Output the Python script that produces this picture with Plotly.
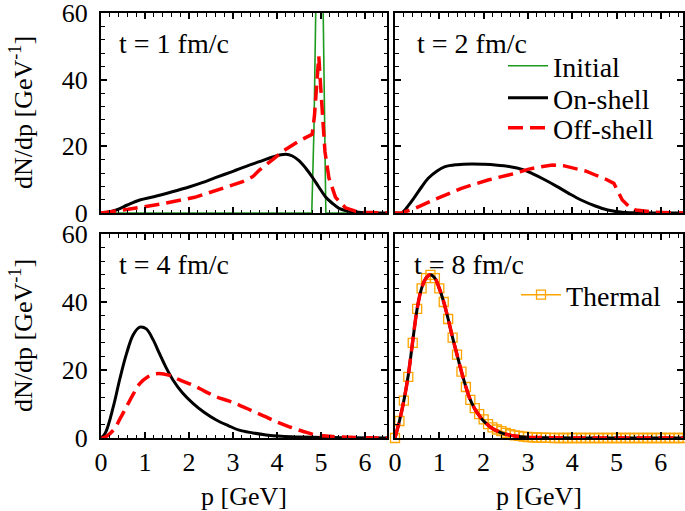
import plotly.graph_objects as go
from plotly.subplots import make_subplots

# ---- data ----
# t = 1 fm/c
p_init = [0.0, 4.79, 4.84, 4.88, 4.92, 4.97, 5.02, 5.05, 5.08, 5.11, 6.5]
n_init = [0.0, 0.0, 25.0, 60.0, 110.0, 130.0, 100.0, 60.0, 25.0, 0.0, 0.0]

p_on_1 = [0.0, 0.1, 0.35, 0.6, 0.88, 1.2, 1.6, 2.0, 2.3, 2.6, 3.0, 3.3, 3.6, 3.9, 4.2, 4.35, 4.5, 4.65, 4.8, 4.95, 5.1, 5.25, 5.41, 5.6, 5.8, 6.0, 6.5]
n_on_1 = [0.0, 0.1, 0.9, 2.4, 3.9, 4.9, 6.3, 7.8, 9.1, 10.6, 12.5, 14.0, 15.4, 16.8, 17.6, 17.1, 15.7, 13.5, 10.8, 7.8, 4.9, 3.0, 1.4, 0.6, 0.3, 0.1, 0.0]

p_off_1 = [0.0, 0.2, 0.62, 1.37, 2.13, 2.88, 3.22, 3.45, 3.6, 3.9, 4.12, 4.5, 4.8, 4.85, 4.9, 4.95, 4.99, 5.03, 5.09, 5.18, 5.33, 5.56, 5.8, 6.0, 6.5]
n_off_1 = [0.0, 0.3, 1.1, 2.7, 4.7, 7.9, 9.4, 10.9, 12.9, 16.0, 18.4, 21.6, 23.6, 29.0, 40.0, 47.0, 38.4, 30.4, 18.4, 10.5, 4.7, 1.5, 0.5, 0.2, 0.0]

# t = 2 fm/c
p_on_2 = [0.0, 0.15, 0.3, 0.45, 0.6, 0.75, 0.95, 1.13, 1.4, 1.73, 2.0, 2.26, 2.6, 2.87, 3.1, 3.39, 3.65, 3.92, 4.2, 4.52, 4.8, 5.13, 5.5, 6.5]
n_on_2 = [0.0, 0.0, 2.2, 4.9, 7.8, 10.4, 12.6, 13.9, 14.5, 14.7, 14.6, 14.4, 13.9, 13.1, 11.8, 9.9, 8.0, 5.9, 3.9, 2.1, 0.9, 0.2, 0.05, 0.0]

p_off_2 = [0.0, 0.15, 0.45, 0.9, 1.5, 2.1, 2.71, 3.0, 3.3, 3.55, 3.8, 4.07, 4.3, 4.52, 4.75, 4.94, 5.03, 5.13, 5.28, 5.43, 5.88, 6.5]
n_off_2 = [0.0, 0.0, 1.4, 4.1, 7.4, 9.9, 11.9, 13.1, 13.9, 14.4, 14.2, 13.4, 12.6, 11.4, 10.2, 8.9, 6.4, 3.9, 2.0, 0.9, 0.2, 0.0]

# t = 4 fm/c
p_on_4 = [0.0, 0.1, 0.28, 0.43, 0.58, 0.73, 0.88, 1.03, 1.18, 1.33, 1.48, 1.64, 1.85, 2.09, 2.35, 2.62, 2.9, 3.14, 3.45, 3.75, 4.1, 4.5, 5.0, 5.5, 6.5]
n_on_4 = [0.0, 1.5, 9.2, 17.5, 24.8, 30.3, 32.6, 32.1, 29.0, 24.8, 20.7, 17.0, 13.3, 10.2, 7.5, 5.3, 3.6, 2.3, 1.5, 0.9, 0.5, 0.3, 0.15, 0.1, 0.0]

p_off_4 = [0.0, 0.05, 0.28, 0.43, 0.58, 0.73, 0.88, 1.05, 1.26, 1.56, 1.8, 2.09, 2.35, 2.62, 2.9, 3.14, 3.45, 3.75, 4.0, 4.28, 4.6, 4.88, 5.2, 5.63, 6.0, 6.5]
n_off_4 = [0.0, 0.0, 2.3, 5.6, 9.2, 12.8, 16.0, 17.9, 18.9, 18.4, 17.0, 15.5, 13.8, 12.1, 10.9, 9.7, 7.9, 6.2, 4.7, 3.3, 1.9, 0.9, 0.5, 0.2, 0.1, 0.0]

# t = 8 fm/c
p_on_8 = [0.0, 0.1, 0.2, 0.3, 0.4, 0.5, 0.6, 0.7, 0.8, 0.9, 1.0, 1.1, 1.2, 1.3, 1.4, 1.5, 1.6, 1.7, 1.8, 1.9, 2.0, 2.1, 2.2, 2.3, 2.4, 2.5, 2.7, 3.0, 3.5, 4.0, 6.5]
n_on_8 = [0.0, 5.0, 11.0, 18.5, 28.5, 38.0, 44.0, 47.0, 48.0, 47.0, 44.0, 40.0, 35.0, 29.5, 24.5, 19.5, 15.0, 11.2, 8.6, 6.6, 5.0, 3.8, 2.8, 2.1, 1.5, 1.1, 0.6, 0.25, 0.08, 0.0, 0.0]
n_off_8 = [0.0, 5.0, 11.0, 18.5, 28.5, 38.0, 44.0, 47.0, 48.0, 47.0, 44.0, 40.0, 35.0, 29.5, 24.5, 19.5, 15.0, 11.2, 8.6, 6.6, 5.0, 3.8, 2.8, 2.1, 1.5, 1.1, 0.6, 0.25, 0.08, 0.0, 0.0]

p_th = [round(0.1 * i, 1) for i in range(66)]
n_th = [0.0, 5.0, 11.0, 18.0, 28.0, 38.0, 44.0, 47.0, 48.0, 47.0,
        44.0, 40.0, 35.0, 29.5, 24.5, 19.5, 15.0, 11.2, 8.8, 7.0,
        5.5, 4.1, 3.1, 2.5, 2.0, 1.5, 1.1, 0.8, 0.6, 0.4,
        0.3, 0.2, 0.15, 0.1, 0.08, 0.05, 0.0, 0.0, 0.0, 0.0,
        0.0, 0.0, 0.0, 0.0, 0.0, 0.0, 0.0, 0.0, 0.0, 0.0,
        0.0, 0.0, 0.0, 0.0, 0.0, 0.0, 0.0, 0.0, 0.0, 0.0,
        0.0, 0.0, 0.0, 0.0, 0.0, 0.0]

panel_labels = ["t = 1 fm/c", "t = 2 fm/c", "t = 4 fm/c", "t = 8 fm/c"]

FONT = "Liberation Serif"
GREEN = "#1e9a1e"
RED = "#ff0000"
ORANGE = "#ffa500"
DASH = "15px,7px"

W, H = 685, 511
L, R, T, B = 101, 2, 13, 73
PW, PH = W - L - R, H - T - B

fig = make_subplots(rows=2, cols=2)

on_style = dict(color="black", width=3)
off_style = dict(color=RED, width=3.5, dash=DASH)

# panel 1
fig.add_trace(go.Scatter(x=p_init, y=n_init, mode="lines", name="Initial",
                         legend="legend",
                         line=dict(color=GREEN, width=1.6)), 1, 1)
fig.add_trace(go.Scatter(x=p_on_1, y=n_on_1, mode="lines", name="On-shell",
                         legend="legend3",
                         line=dict(on_style, shape="spline")), 1, 1)
fig.add_trace(go.Scatter(x=p_off_1, y=n_off_1, mode="lines", name="Off-shell",
                         legend="legend4", line=off_style), 1, 1)
# panel 2
fig.add_trace(go.Scatter(x=p_on_2, y=n_on_2, mode="lines", showlegend=False,
                         line=dict(on_style, shape="spline")), 1, 2)
fig.add_trace(go.Scatter(x=p_off_2, y=n_off_2, mode="lines", showlegend=False,
                         line=off_style), 1, 2)
# panel 3
fig.add_trace(go.Scatter(x=p_on_4, y=n_on_4, mode="lines", showlegend=False,
                         line=dict(on_style, shape="spline")), 2, 1)
fig.add_trace(go.Scatter(x=p_off_4, y=n_off_4, mode="lines", showlegend=False,
                         line=dict(off_style, shape="spline")), 2, 1)
# panel 4
fig.add_trace(go.Scatter(x=p_th, y=n_th, mode="lines+markers", name="Thermal",
                         legend="legend2", cliponaxis=False,
                         line=dict(color=ORANGE, width=1.5),
                         marker=dict(symbol="square-open", size=9, color=ORANGE,
                                     line=dict(width=1.3))), 2, 2)
fig.add_trace(go.Scatter(x=p_on_8, y=n_on_8, mode="lines", showlegend=False,
                         line=dict(on_style, shape="spline")), 2, 2)
fig.add_trace(go.Scatter(x=p_on_8, y=n_off_8, mode="lines", showlegend=False,
                         line=dict(off_style, shape="spline")), 2, 2)

tickfont = dict(family=FONT, size=26, color="black")
common = dict(showline=True, linewidth=2, linecolor="black", mirror="allticks",
              ticks="inside", ticklen=6, tickwidth=1.5, tickcolor="black",
              showgrid=False, zeroline=False, tickfont=tickfont,
              automargin=False, ticklabeloverflow="allow")

xdom = [[0.0, 286 / PW], [294 / PW, 1.0]]
ydom = [[225 / PH, 1.0], [0.0, 204 / PH]]
for r in (1, 2):
    for c in (1, 2):
        fig.update_xaxes(common, range=[0, 6.5], dtick=1, tick0=0,
                         minor=dict(ticks="inside", dtick=0.2, ticklen=3.5,
                                    tickwidth=1.2, tickcolor="black"),
                         domain=xdom[c - 1], showticklabels=(r == 2),
                         row=r, col=c)
        fig.update_yaxes(common, range=[0, 60], dtick=20, tick0=0,
                         ticklabelstandoff=6,
                         minor=dict(ticks="inside", dtick=4, ticklen=3.5,
                                    tickwidth=1.2, tickcolor="black"),
                         domain=ydom[r - 1], showticklabels=(c == 1),
                         row=r, col=c)

fig.update_xaxes(title=dict(text="p [GeV]", font=dict(family=FONT, size=26, color="black"),
                            standoff=16), row=2)

refs = [("x domain", "y domain"), ("x2 domain", "y2 domain"),
        ("x3 domain", "y3 domain"), ("x4 domain", "y4 domain")]
label_x = [0.055, 0.07, 0.055, 0.06]
for (xr, yr), txt, lx in zip(refs, panel_labels, label_x):
    fig.add_annotation(text=txt, xref=xr, yref=yr, x=lx, y=0.85,
                       xanchor="left", yanchor="middle", showarrow=False,
                       font=dict(family=FONT, size=28, color="black"))

# y titles centred on each row
for yc in (113, 336):
    fig.add_annotation(text="dN/dp [GeV<sup>-1</sup>]", textangle=-90,
                       xref="paper", yref="paper", x=(21 - L) / PW,
                       y=(H - B - yc) / PH, xanchor="center", yanchor="middle",
                       showarrow=False,
                       font=dict(family=FONT, size=26, color="black"))


def leg(xpx, ypx):
    # place a legend by its top-left corner, given in window pixels
    return dict(x=(xpx - L) / PW, y=(H - B - ypx) / PH,
                xanchor="left", yanchor="top", bgcolor="rgba(0,0,0,0)",
                font=dict(family=FONT, size=28, color="black"), itemwidth=40)


fig.update_layout(
    width=W, height=H,
    margin=dict(l=L, r=R, t=T, b=B),
    paper_bgcolor="white", plot_bgcolor="white",
    font=dict(family=FONT, color="black"),
    legend=leg(503, 41),
    legend3=leg(503, 73),
    legend4=leg(503, 103),
    legend2=leg(516, 270),
)

# drop the page's default body margin so the figure fills the window
fig.write_html("out.html", config={"displayModeBar": False},
               post_script="document.body.style.margin = '0px';")
